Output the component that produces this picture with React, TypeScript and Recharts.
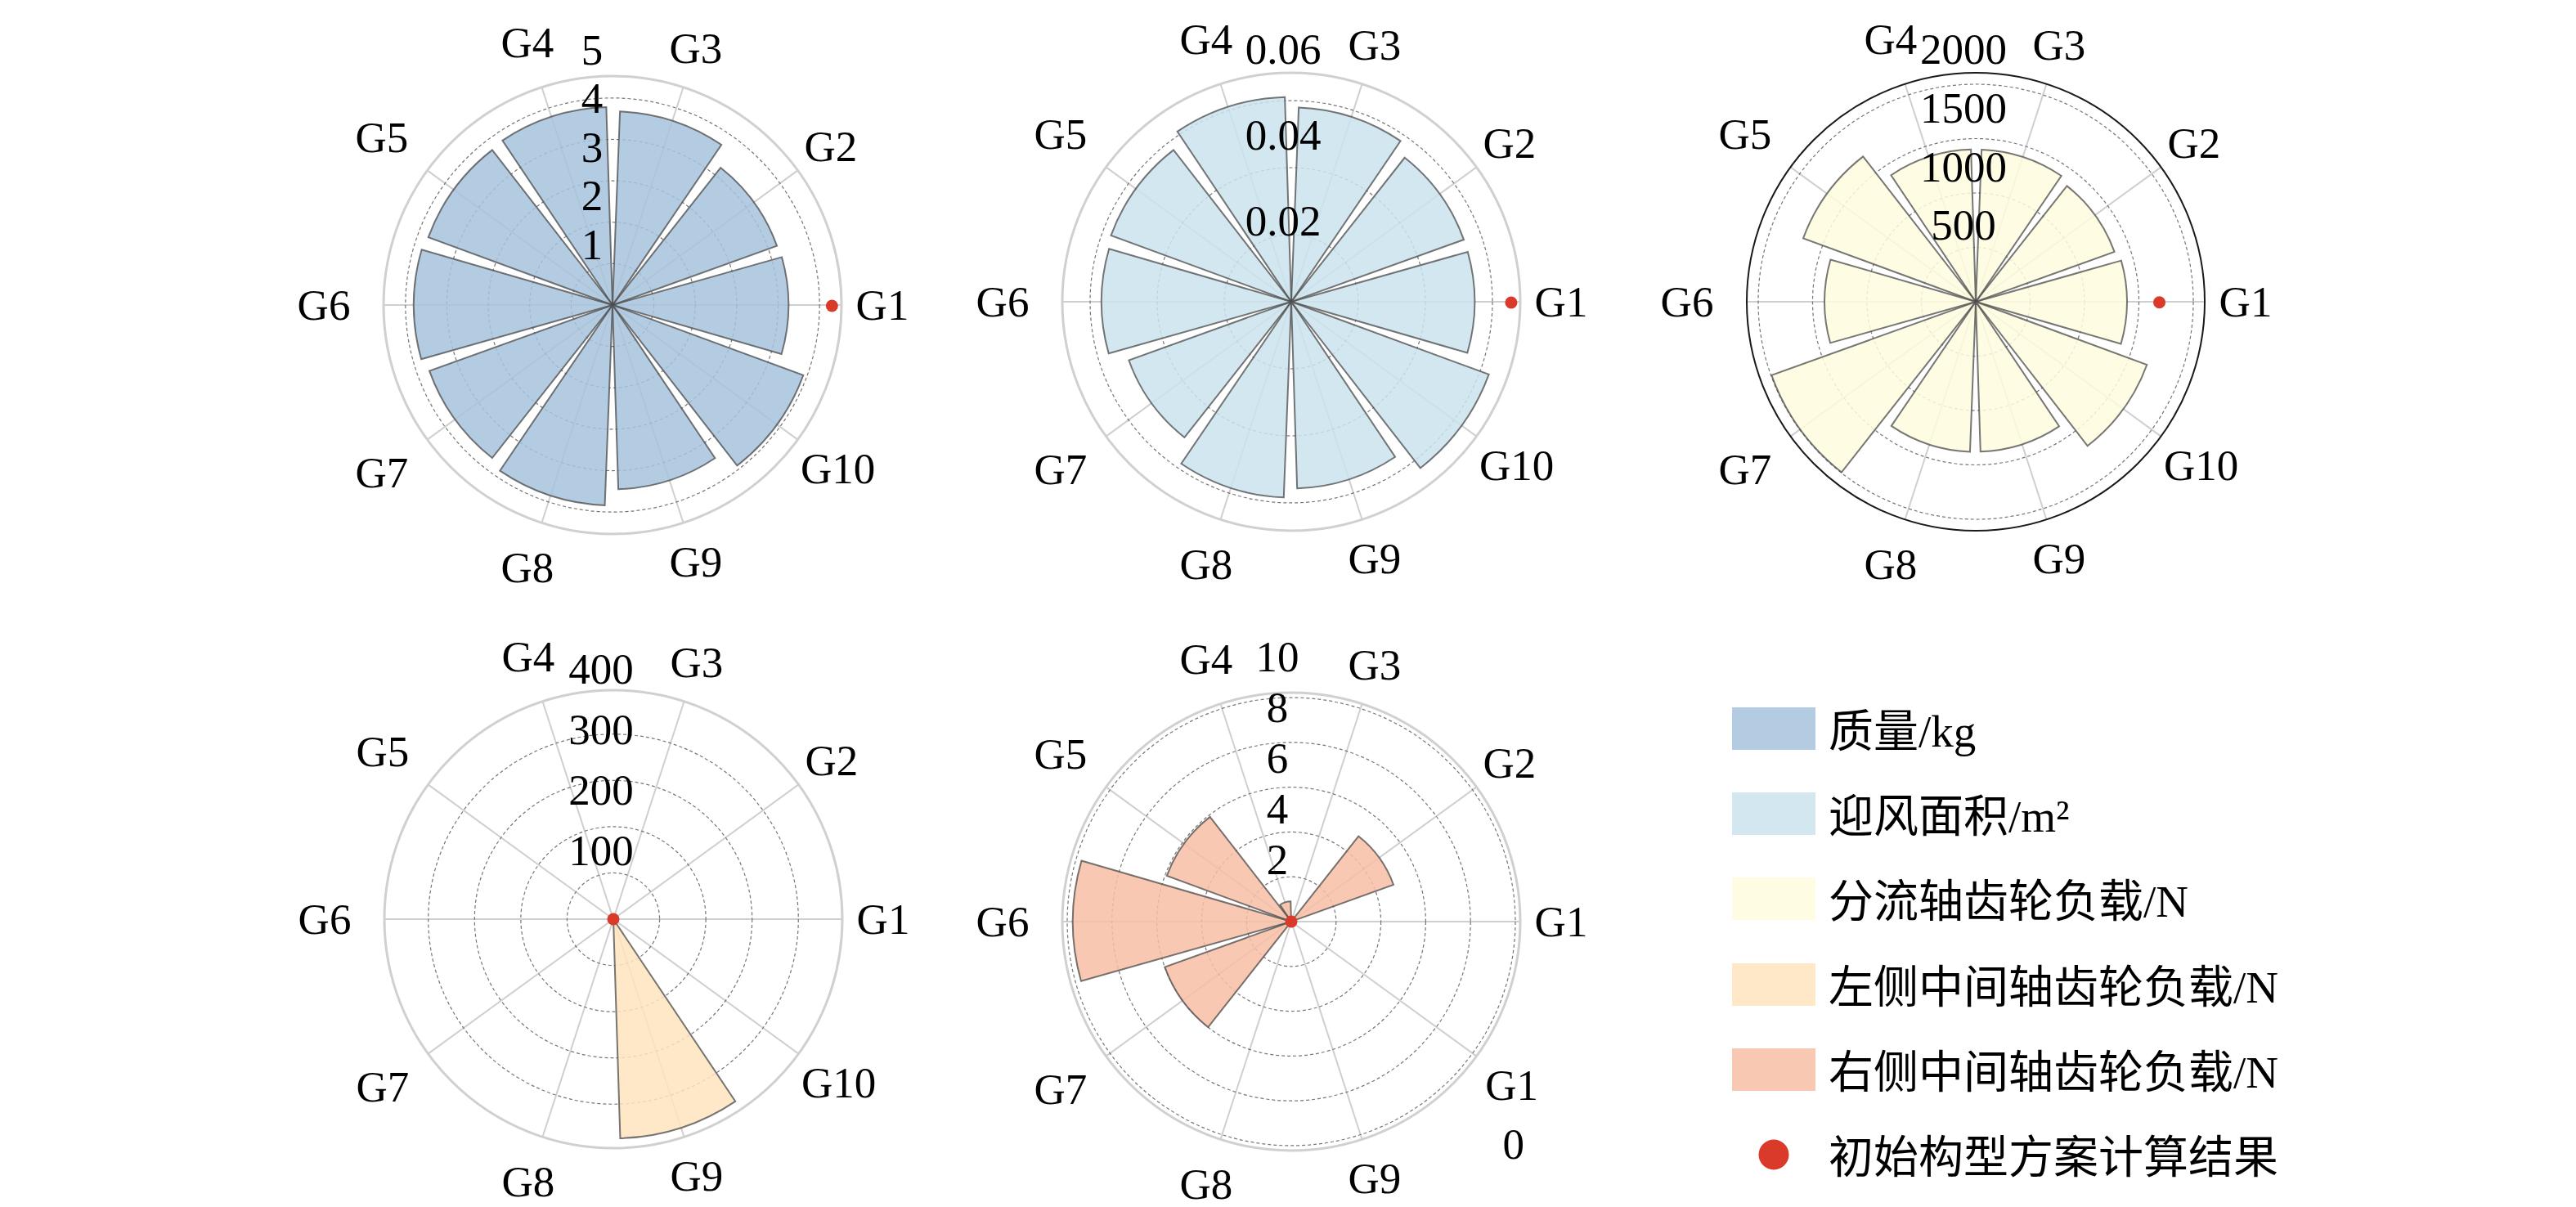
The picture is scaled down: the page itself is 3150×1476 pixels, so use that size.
import React from 'react';
import { RadialBarChart, RadialBar, PolarAngleAxis, PolarRadiusAxis, PolarGrid } from 'recharts';

// ---------- data ----------
const CATEGORIES = ['G1', 'G2', 'G3', 'G4', 'G5', 'G6', 'G7', 'G8', 'G9', 'G10'];
const CATEGORY_INDEX = [0, 1, 2, 3, 4, 5, 6, 7, 8, 9];

const MASS_KG = [4.25, 4.22, 4.68, 4.78, 4.74, 4.8, 4.7, 4.84, 4.45, 4.91];
const MASS_INITIAL = 5.3;
const MASS_TICKS = [1, 2, 3, 4, 5];

const AREA_M2 = [0.0547, 0.0547, 0.058, 0.0611, 0.0573, 0.0566, 0.0515, 0.0584, 0.0557, 0.0628];
const AREA_INITIAL = 0.0656;
const AREA_TICKS = [0.02, 0.04, 0.06];

const SPLIT_LOAD_N = [1390, 1355, 1400, 1400, 1690, 1390, 1995, 1380, 1378, 1677];
const SPLIT_INITIAL = 1688;
const SPLIT_TICKS = [500, 1000, 1500, 2000];

const LEFT_LOAD_N = [0, 0, 0, 0, 0, 0, 0, 0, 474, 0];
const LEFT_INITIAL = 0;
const LEFT_TICKS = [100, 200, 300, 400];

const RIGHT_LOAD_N = [0, 4.85, 0, 0.9, 5.92, 9.75, 6.0, 0, 0, 0];
const RIGHT_INITIAL = 0;
const RIGHT_TICKS = [2, 4, 6, 8, 10];

const LEGEND_LABELS = ['质量/kg', '迎风面积/m²', '分流轴齿轮负载/N', '左侧中间轴齿轮负载/N', '右侧中间轴齿轮负载/N'];
const INITIAL_LABEL = '初始构型方案计算结果';

// ---------- style ----------
const SERIF = "'Liberation Serif', 'Times New Roman', serif";
const LEGEND_FONT = "'Liberation Serif', 'Noto Sans CJK SC', serif";
const BAR_FILLS = ['#a7c3dd', '#cae3ed', '#fefbdd', '#fee4be', '#f8bea4'];
const PATCH_FILLS = ['#b4cce2', '#d2e7f0', '#fefce2', '#fee8c8', '#f9c8b2'];
const DOT_COLOR = '#da3a2a';
const OUTER_R = 280;
const BOX_W = 800;
const BOX_H = 760;
const CX = 400;
const CY = 380;
const FONT_SIZE = 53;

type LabelFit = { dx: number; a: number; b: number };

interface PanelProps {
  values: number[];
  initial: number;
  max: number;
  ticks: number[];
  fill: string;
  centerX: number;
  centerY: number;
  outerStroke: string;
  outerWidth: number;
  fit: LabelFit;
  splitLast?: boolean;
}

function Panel(p: PanelProps) {
  const data = CATEGORIES.map((name, i) => ({ name, idx: CATEGORY_INDEX[i], value: p.values[i] }));
  const dotData = CATEGORIES.map((name, i) => ({ name, idx: CATEGORY_INDEX[i], value: i === 0 ? p.initial : null }));

  const angleTick = (props: any) => {
    const { x, y, payload } = props;
    const idx = Number(payload.value);
    const ang = Math.atan2(CY - y, x - CX);
    const c = Math.cos(ang);
    const s = Math.sin(ang);
    const label = CATEGORIES[idx] ?? '';
    const extra = (label.length - 2) * 0.25 * FONT_SIZE;
    const rc = 330 + 23 * Math.max(0, -c) + extra * Math.abs(c);
    const tx = CX + rc * c;
    const ty = CY - rc * s;
    if (p.splitLast && idx === CATEGORIES.length - 1) {
      return (
        <g>
          <text x={tx - 6} y={ty} textAnchor="middle" dominantBaseline="central" fontFamily={SERIF} fontSize={FONT_SIZE} fill="#000">
            {label.slice(0, 2)}
          </text>
          <text x={tx - 4} y={ty + 72} textAnchor="middle" dominantBaseline="central" fontFamily={SERIF} fontSize={FONT_SIZE} fill="#000">
            {label.slice(2)}
          </text>
        </g>
      );
    }
    return (
      <text x={tx} y={ty} textAnchor="middle" dominantBaseline="central" fontFamily={SERIF} fontSize={FONT_SIZE} fill="#000">
        {label}
      </text>
    );
  };

  const radiusTick = (props: any) => {
    const { y, payload } = props;
    const r = CY - y;
    const d = p.fit.a + p.fit.b * r;
    return (
      <text x={CX + p.fit.dx} y={CY - d} textAnchor="middle" dominantBaseline="central" fontFamily={SERIF} fontSize={FONT_SIZE} fill="#000">
        {String(payload.value)}
      </text>
    );
  };

  const dotShape = (props: any) => {
    const { cx, cy, outerRadius, startAngle, endAngle, payload } = props;
    if (payload == null || payload.value == null) return null;
    const mid = ((startAngle + endAngle) / 2) * (Math.PI / 180);
    const px = cx + outerRadius * Math.cos(-mid);
    const py = cy + outerRadius * Math.sin(-mid);
    return <circle cx={px} cy={py} r={7.5} fill={DOT_COLOR} />;
  };

  const common = {
    width: BOX_W,
    height: BOX_H,
    cx: CX,
    cy: CY,
    innerRadius: 0,
    outerRadius: OUTER_R,
    startAngle: 0,
    endAngle: 360,
    layout: 'centric' as any,
    barCategoryGap: '5%',
    margin: { top: 0, right: 0, bottom: 0, left: 0 },
  };

  const angleDomain = [0, CATEGORIES.length];
  const radiusProps = {
    type: 'number' as const,
    angle: 90,
    domain: [0, p.max],
    ticks: p.ticks,
    allowDecimals: true,
    tickCount: 7,
    axisLine: false,
    tickLine: false,
  };

  return (
    <div style={{ position: 'absolute', left: p.centerX - CX, top: p.centerY - CY, width: BOX_W, height: BOX_H }}>
      <div style={{ position: 'absolute', left: 0, top: 0 }}>
        <RadialBarChart {...common} data={data}>
          <PolarGrid gridType="circle" polarRadius={[]} stroke="#cfcfcf" strokeWidth={2} />
          <PolarGrid gridType="circle" radialLines={false} stroke="#777777" strokeWidth={1.2} strokeDasharray="4 3" />
          <PolarAngleAxis
            type="number"
            dataKey="idx"
            domain={angleDomain}
            ticks={CATEGORY_INDEX}
            axisLineType="circle"
            axisLine={{ stroke: p.outerStroke, strokeWidth: p.outerWidth }}
            tickLine={false}
            tick={false}
          />
          <PolarRadiusAxis {...radiusProps} tick={false} />
          <RadialBar
            dataKey="value"
            fill={p.fill}
            fillOpacity={0.85}
            stroke="#4a4a4a"
            strokeOpacity={0.75}
            strokeWidth={2}
            isAnimationActive={false}
          />
        </RadialBarChart>
      </div>
      <div style={{ position: 'absolute', left: 0, top: 0 }}>
        <RadialBarChart {...common} data={dotData}>
          <PolarAngleAxis type="number" dataKey="idx" domain={angleDomain} ticks={CATEGORY_INDEX} axisLine={false} tickLine={false} tick={angleTick} />
          <PolarRadiusAxis {...radiusProps} tick={radiusTick} />
          <RadialBar dataKey="value" fill={DOT_COLOR} shape={dotShape} isAnimationActive={false} />
        </RadialBarChart>
      </div>
    </div>
  );
}

function Legend() {
  const rows = [891, 995, 1099, 1204, 1308];
  const dotRow = 1412;
  const left = 2100;
  const top = 840;
  return (
    <svg width={1000} height={620} style={{ position: 'absolute', left, top }}>
      {LEGEND_LABELS.map((label, i) => (
        <g key={label}>
          <rect x={2118 - left} y={rows[i] - 26 - top} width={102} height={52} fill={PATCH_FILLS[i]} />
          <text x={2236 - left} y={rows[i] + 3 - top} dominantBaseline="central" fontFamily={LEGEND_FONT} fontSize={55} fill="#000">
            {label}
          </text>
        </g>
      ))}
      <circle cx={2169 - left} cy={dotRow - top} r={18.5} fill={DOT_COLOR} />
      <text x={2236 - left} y={dotRow + 3 - top} dominantBaseline="central" fontFamily={LEGEND_FONT} fontSize={55} fill="#000">
        {INITIAL_LABEL}
      </text>
    </svg>
  );
}

export default function App() {
  return (
    <div style={{ position: 'absolute', left: 0, top: 0, width: 3150, height: 1476, background: '#fff', overflow: 'hidden' }}>
      <Panel values={MASS_KG} initial={MASS_INITIAL} max={5.53} ticks={MASS_TICKS} fill={BAR_FILLS[0]}
        centerX={749} centerY={373} outerStroke="#d0d0d0" outerWidth={3} fit={{ dx: -25, a: 14.5, b: 1.176 }} />
      <Panel values={AREA_M2} initial={AREA_INITIAL} max={0.0683} ticks={AREA_TICKS} fill={BAR_FILLS[1]}
        centerX={1579} centerY={369} outerStroke="#d0d0d0" outerWidth={3} fit={{ dx: -10, a: -6, b: 1.28 }} />
      <Panel values={SPLIT_LOAD_N} initial={SPLIT_INITIAL} max={2105} ticks={SPLIT_TICKS} fill={BAR_FILLS[2]}
        centerX={2416} centerY={369} outerStroke="#1a1a1a" outerWidth={2} fit={{ dx: -15, a: 22, b: 1.078 }} />
      <Panel values={LEFT_LOAD_N} initial={LEFT_INITIAL} max={495} ticks={LEFT_TICKS} fill={BAR_FILLS[3]}
        centerX={750} centerY={1124} outerStroke="#d0d0d0" outerWidth={3} fit={{ dx: -15, a: 10, b: 1.309 }} />
      <Panel values={RIGHT_LOAD_N} initial={RIGHT_INITIAL} max={10.22} ticks={RIGHT_TICKS} fill={BAR_FILLS[4]}
        centerX={1579} centerY={1127} outerStroke="#d0d0d0" outerWidth={3} fit={{ dx: -17, a: 14.6, b: 1.129 }} splitLast />
      <Legend />
    </div>
  );
}
